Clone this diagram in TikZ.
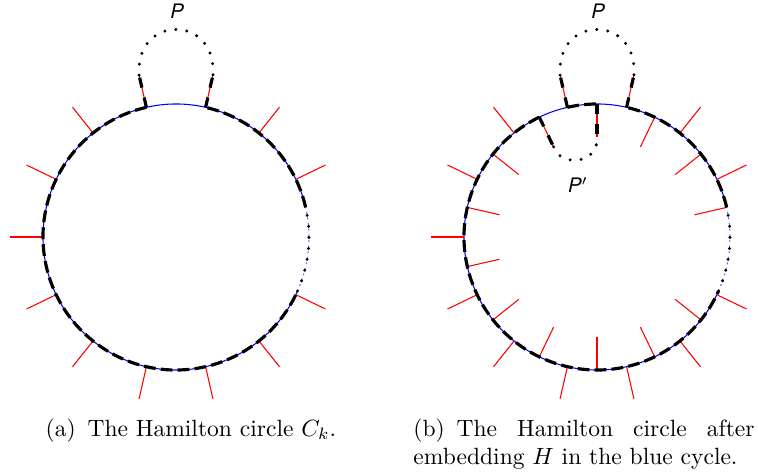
\documentclass[tikz,border=0pt]{standalone}
\usepackage{fontspec}
\newfontfamily\lblfont{TeX Gyre Heros}
\begin{document}
\hyphenpenalty=10000
\exhyphenpenalty=10000
\begin{tikzpicture}[x=0.425pt,y=0.425pt,
  bluecyc/.style={blue, line width=0.45pt},
  bluedot/.style={blue!60, line width=0.45pt, dash pattern=on 0.8pt off 1.6pt},
  spoke/.style={red, line width=0.45pt},
  hamdash/.style={black, line width=1.35pt, dash pattern=on 5pt off 2.2pt},
  legdash/.style={black, line width=1.35pt, dash pattern=on 4.3pt off 4.3pt},
  hamdot/.style={black, line width=1.4pt, line cap=round, dash pattern=on 0pt off 4.7pt},
  lbl/.style={font=\lblfont\itshape\fontsize{8.5}{10}\selectfont, inner sep=0pt},
  captxt/.style={font=\fontsize{10}{12}\selectfont, inner sep=0pt}]
\useasboundingbox (0,0) rectangle (758,474);
\def\R{133}
\def\RI{100}
\def\RO{166}
\coordinate (L) at (176,237);
\coordinate (R) at (597,237);
% vertices (28 positions, step 360/28)
\foreach \k in {0,...,27}{
  \pgfmathsetmacro\a{\k*360/28}
  \path (L) ++(\a:\R) coordinate (Lv\k);
  \path (L) ++(\a:\RO) coordinate (Lo\k);
  \path (R) ++(\a:\R) coordinate (Rv\k);
  \path (R) ++(\a:\RO) coordinate (Ro\k);
  \path (R) ++(\a:\RI) coordinate (Ri\k);
}
\path (L) ++(336:\R) coordinate (Ld);
\path (R) ++(336:\R) coordinate (Rd);

% ---------- left picture ----------
\draw[bluecyc] (Lv1) arc[start angle=12.857, end angle=336, radius=\R];
\draw[bluedot] (Ld) arc[start angle=336, end angle=372.857, radius=\R];
\foreach \k in {2,4,10,12,14,16,18,20,22,24,26}{
  \draw[spoke] (Lv\k) -- (Lo\k);
}
\draw[spoke] (Lv6) -- (Lo6);
\draw[spoke] (Lv8) -- (Lo8);
\draw[legdash] (Lv6) -- (Lo6);
\draw[legdash] (Lv8) -- (Lo8);
\draw[hamdash] (Lv1) arc[start angle=12.857, end angle=77.143, radius=\R];
\draw[hamdash] (Lv8) arc[start angle=102.857, end angle=336, radius=\R];
\draw[hamdot] (Ld) arc[start angle=336, end angle=372.857, radius=\R];
\draw[hamdot] (Lo8) .. controls +(-4,61) and +(4,61) .. (Lo6);
\node[lbl] (PL) at (177,463) {P};

% ---------- right picture ----------
\draw[bluecyc] (Rv1) arc[start angle=12.857, end angle=336, radius=\R];
\draw[bluedot] (Rd) arc[start angle=336, end angle=372.857, radius=\R];
\foreach \k in {2,4,10,12,14,16,18,20,22,24,26}{
  \draw[spoke] (Rv\k) -- (Ro\k);
}
\foreach \k in {1,3,5,11,13,15,17,19,21,23,25}{
  \draw[spoke] (Rv\k) -- (Ri\k);
}
\draw[spoke] (Rv6) -- (Ro6);
\draw[spoke] (Rv8) -- (Ro8);
\draw[spoke] (Rv7) -- (Ri7);
\draw[spoke] (Rv9) -- (Ri9);
\draw[legdash] (Rv6) -- (Ro6);
\draw[legdash] (Rv8) -- (Ro8);
\draw[legdash] (Rv7) -- (Ri7);
\draw[legdash] (Rv9) -- (Ri9);
\draw[hamdash] (Rv1) arc[start angle=12.857, end angle=77.143, radius=\R];
\draw[hamdash] (Rv8) arc[start angle=102.857, end angle=90, radius=\R];
\draw[hamdash] (Rv9) arc[start angle=115.714, end angle=336, radius=\R];
\draw[hamdot] (Rd) arc[start angle=336, end angle=372.857, radius=\R];
\draw[hamdot] (Ro8) .. controls +(-4,61) and +(4,61) .. (Ro6);
\draw[hamdot] (Ri9) .. controls +(6,-20) and +(2,-28) .. (Ri7);
\node[lbl] (PR) at (598,463) {P};
\node[lbl] (PP) at (578,289) {P$'$};

% ---------- captions ----------
\node[captxt, anchor=base] (capa) at (191,38) {(a)\enspace The Hamilton circle $C_k$.};
\node[captxt, anchor=north west, text width=145pt, align=justify] (capb) at (413,56)
  {(b)\enspace The Hamilton circle after \mbox{embedding} $H$ in the blue cycle.};
\end{tikzpicture}
\end{document}
